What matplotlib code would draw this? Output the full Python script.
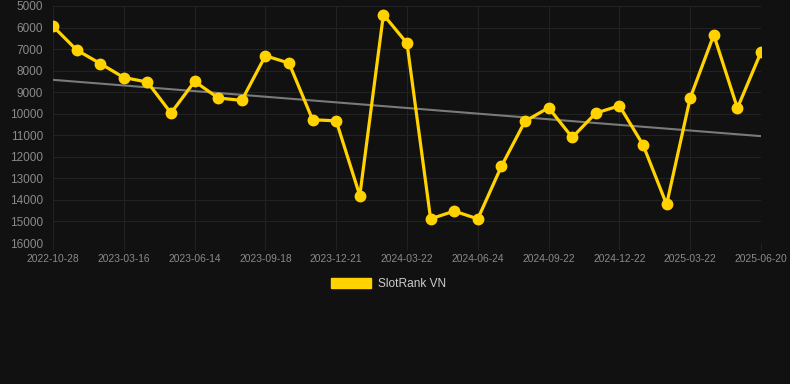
import numpy as np
import matplotlib
matplotlib.use("Agg")
import matplotlib.pyplot as plt
from matplotlib.patches import Patch

plt.rcParams['font.family'] = ['Liberation Sans', 'DejaVu Sans']

# rank values (lower = better, axis inverted)
ranks = [5940, 7040, 7670, 8320, 8530, 9970, 8500, 9270, 9380, 7310,
         7650, 10280, 10330, 13800, 5400, 6730, 14880, 14520, 14880, 12440,
         10350, 9720, 11100, 9970, 9630, 11440, 14210, 9270, 6340, 9740,
         7140]
tick_labels = ["2022-10-28", "2023-03-16", "2023-06-14", "2023-09-18",
               "2023-12-21", "2024-03-22", "2024-06-24", "2024-09-22",
               "2024-12-22", "2025-03-22", "2025-06-20"]
y_ticks = list(range(5000, 16001, 1000))

bg = "#111111"
gold = "#FFD200"

fig = plt.figure(figsize=(7.9, 3.84), dpi=100, facecolor=bg)
ax = fig.add_axes([53/790, 1-243/384, (761-53)/790, (243-6)/384])
ax.set_facecolor(bg)

x = np.arange(len(ranks))

# trend line
slope, icpt = np.polyfit(x, ranks, 1)
ax.plot(x, slope*x + icpt, color="#7a7a7a", lw=1.5, zorder=2)

ax.plot(x, ranks, color=gold, lw=2.3, marker="o", ms=7.5,
        markerfacecolor=gold, markeredgecolor=gold, zorder=3)

ax.set_xlim(0, len(ranks)-1)
ax.set_ylim(16000, 5000)
ax.set_yticks(y_ticks)
ax.set_xticks(x[::3])
ax.set_xticklabels(tick_labels)

ax.grid(True, color="#222222", lw=0.8)
ax.set_axisbelow(True)
for s in ax.spines.values():
    s.set_visible(False)
ax.tick_params(axis="y", colors="#8a8a8a", labelsize=8.5, length=0, pad=7)
ax.tick_params(axis="x", colors="#222222", labelcolor="#8a8a8a",
               labelsize=7.4, length=5, pad=3)
ax.axhline(16000, color="#2a2a2a", lw=0.8)

leg = fig.legend(handles=[Patch(facecolor=gold, edgecolor=gold, label="SlotRank VN")],
                 loc="center", bbox_to_anchor=(0.492, 1-284/384), frameon=False,
                 handlelength=3.3, handleheight=0.95, handletextpad=0.6,
                 fontsize=8.6)
for t in leg.get_texts():
    t.set_color("#cccccc")

fig.savefig("out.png", dpi=100, facecolor=bg)
